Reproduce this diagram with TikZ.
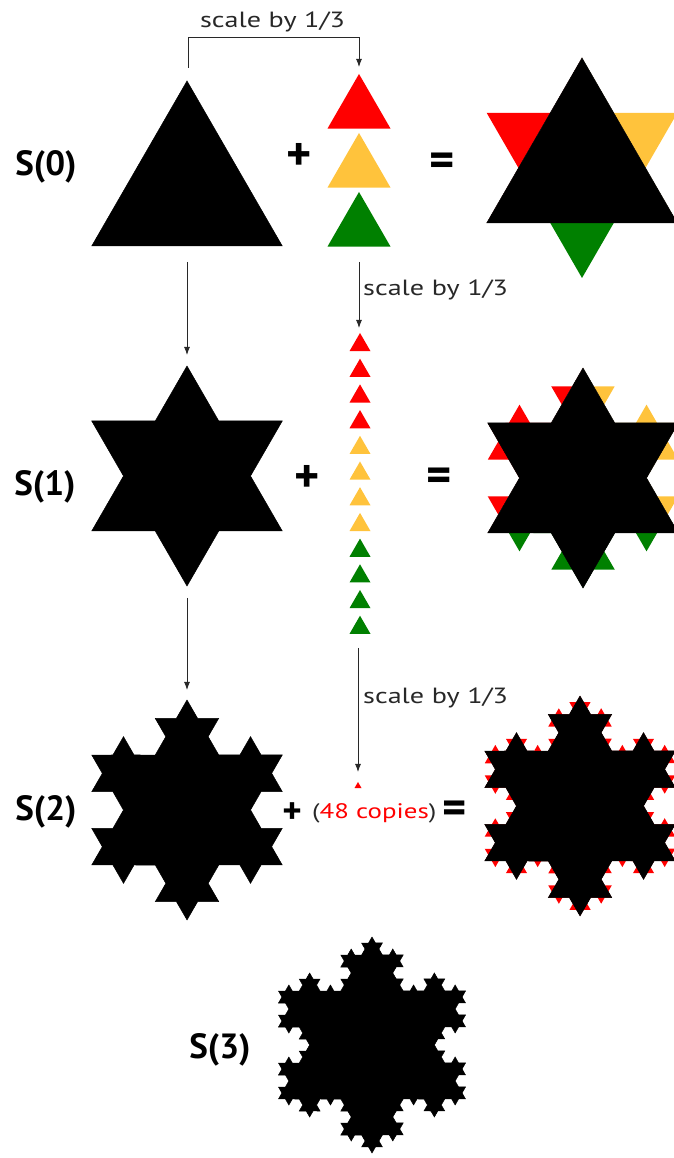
\documentclass[tikz,border=0pt]{standalone}
\usepackage{fontspec}
\setmainfont{PT Sans}
\newfontfamily\notefont[FakeStretch=1.28]{PT Sans}
\usetikzlibrary{decorations.fractals,arrows.meta}
\definecolor{kred}{RGB}{255,0,0}
\definecolor{kyel}{RGB}{255,195,60}
\definecolor{kgreen}{RGB}{0,128,0}
\definecolor{arr}{RGB}{40,40,40}
\newcommand\kochtri[3]{% name, center, radius
  \path (#2) ++(90:#3) coordinate (#1t)
        (#2) ++(210:#3) coordinate (#1l)
        (#2) ++(330:#3) coordinate (#1r);}
\newcommand\smalltri[4]{% colour, x, apex y, side
  \fill[#1] (#2,#3) -- ++({-#4/2},{-0.866*#4}) -- ++(#4,0) -- cycle;}
\begin{document}
\begin{tikzpicture}[x=1pt,y=1pt,
  decoration=Koch snowflake,
  flake/.style={fill=black,draw=black,line width=0.5pt,line join=miter},
  lab/.style={font=\fontsize{35}{40}\selectfont\bfseries,inner sep=0},
  op/.style={font=\fontsize{48}{52}\selectfont\bfseries,inner sep=0},
  note/.style={font=\notefont\fontsize{22}{26}\selectfont,text=arr,inner sep=0},
  conn/.style={draw=arr,line width=0.9pt,-{Latex[length=8pt,width=6pt]}},
]
\useasboundingbox (0,0) rectangle (673,1158);

% centres of the figures
\coordinate (c0) at (187,967);
\coordinate (c1) at (187,682);
\coordinate (c2) at (187,348);
\coordinate (c3) at (372,113);
\coordinate (d0) at (582,990);
\coordinate (d1) at (583,680);
\coordinate (d2) at (580,352);
\kochtri{a}{c0}{110}
\kochtri{b}{c1}{110}
\kochtri{e}{c2}{110}
\kochtri{g}{c3}{108}
\kochtri{p}{d0}{110}
\kochtri{q}{d1}{110}
\kochtri{r}{d2}{110}

% S(0)
\fill[flake] (at) -- (ar) -- (al) -- cycle;
% S(1)
\fill[flake] decorate{(bt) -- (br) -- (bl) -- (bt)};
% S(2)
\fill[flake] decorate{decorate{(et) -- (er) -- (el) -- (et)}};
% S(3)
\fill[flake] decorate{decorate{decorate{(gt) -- (gr) -- (gl) -- (gt)}}};

% result of row 0
\fill[kred] decorate{(pl) -- (pt)};
\fill[kyel] decorate{(pt) -- (pr)};
\fill[kgreen] decorate{(pr) -- (pl)};
\fill[flake] (pt) -- (pr) -- (pl) -- cycle;

% result of row 1
\fill[kred] decorate{decorate{(ql) -- (qt)}};
\fill[kyel] decorate{decorate{(qt) -- (qr)}};
\fill[kgreen] decorate{decorate{(qr) -- (ql)}};
\fill[flake] decorate{(qt) -- (qr) -- (ql) -- (qt)};

% result of row 2
\fill[kred] decorate{decorate{decorate{(rt) -- (rr) -- (rl) -- (rt)}}};
\fill[flake] decorate{decorate{(rt) -- (rr) -- (rl) -- (rt)}};

% copies, row 0
\smalltri{kred}{359}{1084}{63}
\smalltri{kyel}{359}{1025}{63}
\smalltri{kgreen}{359}{966}{63}
% copies, row 1
\foreach \i in {0,...,3} {\smalltri{kred}{360}{825-25.7*\i}{21}}
\foreach \i in {4,...,7} {\smalltri{kyel}{360}{825-25.7*\i}{21}}
\foreach \i in {8,...,11} {\smalltri{kgreen}{360}{825-25.7*\i}{21}}
% copy, row 2
\smalltri{kred}{358}{376}{7}

% labels
\node[lab] (s0) at (46,991) {S(0)};
\node[lab] (s1) at (45,671) {S(1)};
\node[lab] (s2) at (46,346) {S(2)};
\node[lab] (s3) at (220,108) {S(3)};
\node[op] (plus0) at (299.5,1001) {+};
\node[op] (eq0) at (442,993) {=};
\node[op] (plus1) at (307,679.5) {+};
\node[op] (eq1) at (439,678) {=};
\node[op,font=\fontsize{37}{40}\selectfont\bfseries] (plus2) at (292,345) {+};
\node[note,font=\notefont\fontsize{21}{24}\selectfont,text=kred,anchor=west] (copies) at (312,345) {{\color{arr}(}48 copies{\color{arr})}};
\node[op,font=\fontsize{46}{50}\selectfont\bfseries] (eq2) at (455,346) {=};

% connectors
\coordinate (b0s) at (188,1090);
\coordinate (b0c) at (188,1121);
\coordinate (b0e) at (359,1091);
\draw[conn] (b0s) -- (b0c) -| (b0e);
\node[note,anchor=base] (sc0) at (272.5,1130) {scale by 1/3};

\coordinate (a1s) at (187,896);
\coordinate (a1e) at (187,803);
\draw[conn] (a1s) -- (a1e);
\coordinate (a2s) at (359,896);
\coordinate (a2e) at (359,830);
\draw[conn] (a2s) -- (a2e);
\node[note,anchor=west] (sc1) at (363,868) {scale by 1/3};

\coordinate (a3s) at (187,560);
\coordinate (a3e) at (187,468);
\draw[conn] (a3s) -- (a3e);
\coordinate (a4s) at (358,510);
\coordinate (a4e) at (358,386);
\draw[conn] (a4s) -- (a4e);
\node[note,anchor=west] (sc2) at (363,460) {scale by 1/3};
\end{tikzpicture}
\end{document}
